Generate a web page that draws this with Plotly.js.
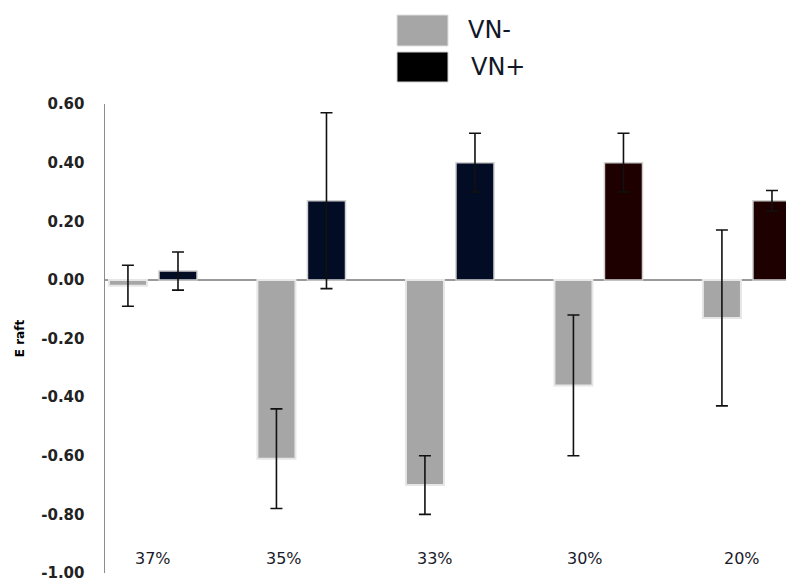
<!DOCTYPE html>
<html>
<head>
<meta charset="utf-8">
<script src="https://cdn.plot.ly/plotly-3.0.1.min.js"></script>
<style>
  html, body { margin: 0; padding: 0; background: #ffffff; }
  #chart { width: 786px; height: 583px; }
</style>
</head>
<body>
<div id="chart"></div>
<script>
// Concentration groups along the x axis
const categories = ['37%', '35%', '33%', '30%', '20%'];

// Mean E raft per group and its error (± half-range)
const vnMinus = [-0.02, -0.61, -0.70, -0.36, -0.13];
const vnMinusErr = [0.07, 0.17, 0.10, 0.24, 0.30];
const vnPlus = [0.03, 0.27, 0.40, 0.40, 0.27];
const vnPlusErr = [0.065, 0.30, 0.10, 0.10, 0.035];

// Y axis tick values and their printed labels
const yTickVals = [0.6, 0.4, 0.2, 0, -0.2, -0.4, -0.6, -0.8, -1.0];
const yTickText = ['0.60', '0.40', '0.20', '0.00', '-0.20', '-0.40', '-0.60', '-0.80', '-1.00'];

const seriesNames = ['VN-', 'VN+'];

// Dark bars: navy for the first three groups, maroon for the last two
const plusColors = ['#020c24', '#020c24', '#020c24', '#1f0000', '#1f0000'];

const errStyle = { type: 'data', visible: true, color: '#111111', thickness: 1.6, width: 6 };

const traces = [
  {
    type: 'bar', name: seriesNames[0],
    x: categories, y: vnMinus,
    marker: { color: '#a6a6a6', line: { color: '#e6e6e6', width: 2 } },
    error_y: Object.assign({ array: vnMinusErr }, errStyle),
    showlegend: false, hoverinfo: 'skip'
  },
  {
    type: 'bar', name: seriesNames[1],
    x: categories, y: vnPlus,
    marker: { color: plusColors, line: { color: '#d0d0d0', width: 1.5 } },
    error_y: Object.assign({ array: vnPlusErr }, errStyle),
    showlegend: false, hoverinfo: 'skip'
  }
];

// Pixel -> paper helpers for the hand-drawn legend block
const L = 105, R = 786, T = 104, B = 573;
const px = v => (v - L) / (R - L);
const py = v => (B - v) / (B - T);

const shapes = [
  { type: 'rect', xref: 'paper', yref: 'paper', x0: px(397), x1: px(448), y0: py(46), y1: py(15),
    fillcolor: '#a6a6a6', line: { color: '#e0e0e0', width: 1 } },
  { type: 'rect', xref: 'paper', yref: 'paper', x0: px(397), x1: px(448), y0: py(82), y1: py(52),
    fillcolor: '#000000', line: { color: '#d0d0d0', width: 1 } }
];

const legendFont = { family: 'DejaVu Sans, Verdana, sans-serif', size: 24, color: '#101828' };
const annotations = [
  { xref: 'paper', yref: 'paper', x: px(466), y: py(30), xanchor: 'left', yanchor: 'middle',
    text: seriesNames[0], showarrow: false, font: legendFont },
  { xref: 'paper', yref: 'paper', x: px(469), y: py(67), xanchor: 'left', yanchor: 'middle',
    text: seriesNames[1], showarrow: false, font: legendFont }
];

// Group labels sit along the bottom of the plot
const labelShift = [0, -17, -15, -13, -5];
categories.forEach((c, i) => {
  annotations.push({
    xref: 'x', yref: 'paper', x: i, y: 0, xanchor: 'center', yanchor: 'bottom',
    yshift: 3, xshift: labelShift[i], text: c, showarrow: false,
    font: { family: 'DejaVu Sans, Verdana, sans-serif', size: 16, color: '#1a1a2a' }
  });
});

const layout = {
  width: 786, height: 583,
  margin: { l: L, r: 0, t: T, b: 583 - B },
  paper_bgcolor: '#ffffff', plot_bgcolor: '#ffffff',
  barmode: 'group', bargap: 0.326, bargroupgap: 0.24,
  showlegend: false,
  xaxis: {
    type: 'category', range: [-0.323, 4.263],
    showticklabels: false, showgrid: false, zeroline: false, showline: false, ticks: ''
  },
  yaxis: {
    range: [-1.0, 0.6],
    tickvals: yTickVals, ticktext: yTickText,
    ticklabeloverflow: 'allow',
    showgrid: false, ticks: '', ticklabelstandoff: 16,
    showline: true, linecolor: '#8c8c8c', linewidth: 1.5,
    zeroline: true, zerolinecolor: '#9a9a9a', zerolinewidth: 1.5,
    tickfont: { family: 'DejaVu Sans, Verdana, sans-serif', size: 15, color: '#222222', weight: 'bold' },
    title: { text: '<b>E raft</b>', standoff: 14,
      font: { family: 'DejaVu Sans, Verdana, sans-serif', size: 12, color: '#000000' } }
  },
  shapes: shapes,
  annotations: annotations
};

Plotly.newPlot('chart', traces, layout, { staticPlot: true, displayModeBar: false });
</script>
</body>
</html>
